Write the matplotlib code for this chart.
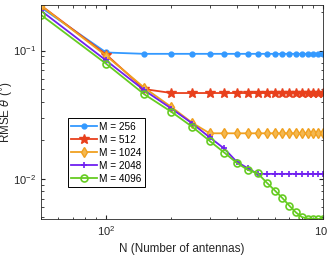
import matplotlib
matplotlib.use('Agg')
import matplotlib.pyplot as plt
import numpy as np

plt.rcParams['font.family'] = ['Liberation Sans', 'DejaVu Sans']
plt.rcParams['mathtext.fontset'] = 'dejavusans'

# antenna counts N = 50, 100, ..., 1000
N = [50, 100, 150, 200, 250, 300, 350, 400, 450, 500,
     550, 600, 650, 700, 750, 800, 850, 900, 950, 1000]

rmse_256 = [0.217, 0.0965, 0.0942, 0.0942, 0.0942, 0.0942, 0.0942, 0.0942, 0.0942, 0.0942,
            0.0942, 0.0942, 0.0942, 0.0942, 0.0942, 0.0942, 0.0942, 0.0942, 0.0942, 0.0942]
rmse_512 = [0.225, 0.093, 0.050, 0.0466, 0.0466, 0.0466, 0.0466, 0.0466, 0.0466, 0.0466,
            0.0466, 0.0466, 0.0466, 0.0466, 0.0466, 0.0466, 0.0466, 0.0466, 0.0466, 0.0466]
rmse_1024 = [0.224, 0.091, 0.0512, 0.0362, 0.0272, 0.0226, 0.0226, 0.0226, 0.0226, 0.0226,
             0.0226, 0.0226, 0.0226, 0.0226, 0.0226, 0.0226, 0.0226, 0.0226, 0.0226, 0.0226]
rmse_2048 = [0.205, 0.0836, 0.0489, 0.0352, 0.0269, 0.0210, 0.0172, 0.01355, 0.01205, 0.0109,
             0.0109, 0.0109, 0.0109, 0.0109, 0.0109, 0.0109, 0.0109, 0.0109, 0.0109, 0.0109]
rmse_4096 = [0.190, 0.0788, 0.0455, 0.0332, 0.0253, 0.0197, 0.0160, 0.0133, 0.0117, 0.0110,
             0.00931, 0.00807, 0.00705, 0.00614, 0.00545, 0.00501, 0.00489, 0.00485, 0.00485, 0.00485]

labels = ['M = 256', 'M = 512', 'M = 1024', 'M = 2048', 'M = 4096']

fig = plt.figure(figsize=(3.27, 2.57), dpi=100)
ax = fig.add_axes([0.125, 0.148, 0.863, 0.833])

ax.plot(N, rmse_256, color='#3399FF', lw=1.3, marker='.', ms=7, label=labels[0])
ax.plot(N, rmse_512, color='#E8401C', lw=1.3, marker='*', ms=7, label=labels[1])
ax.plot(N, rmse_1024, color='#F0A020', lw=1.3, marker='d', ms=5, mfc='#F5B850', label=labels[2])
ax.plot(N, rmse_2048, color='#7020F0', lw=1.3, marker='+', ms=5, mew=1.2, label=labels[3])
ax.plot(N, rmse_4096, color='#66CC22', lw=1.3, marker='o', ms=5, mfc='none', mew=1.2, label=labels[4])

ax.set_xscale('log')
ax.set_yscale('log')
ax.set_xlim(50, 1000)
ax.set_ylim(0.00485, 0.227)

ax.set_xlabel('N (Number of antennas)', fontsize=8.4, color='#262626', labelpad=4)
ax.set_ylabel(r'RMSE $\theta$ ($^{\circ}$)', fontsize=8.4, color='#262626')
ax.yaxis.set_label_coords(-0.092, 0.5)

ax.tick_params(which='both', direction='in', top=True, right=True, colors='#262626', labelsize=8)
ax.tick_params(which='major', length=3)
ax.tick_params(which='minor', length=1.8)
for s in ax.spines.values():
    s.set_color('#262626')
    s.set_linewidth(0.6)

leg = ax.legend(loc='lower left', bbox_to_anchor=(0.095, 0.148), borderaxespad=0,
                fontsize=7.2, fancybox=False, edgecolor='black', framealpha=1,
                handlelength=2.6, handletextpad=0.2, labelspacing=0.3, borderpad=0.35)
leg.get_frame().set_linewidth(0.7)

fig.savefig('out.png', dpi=100)
